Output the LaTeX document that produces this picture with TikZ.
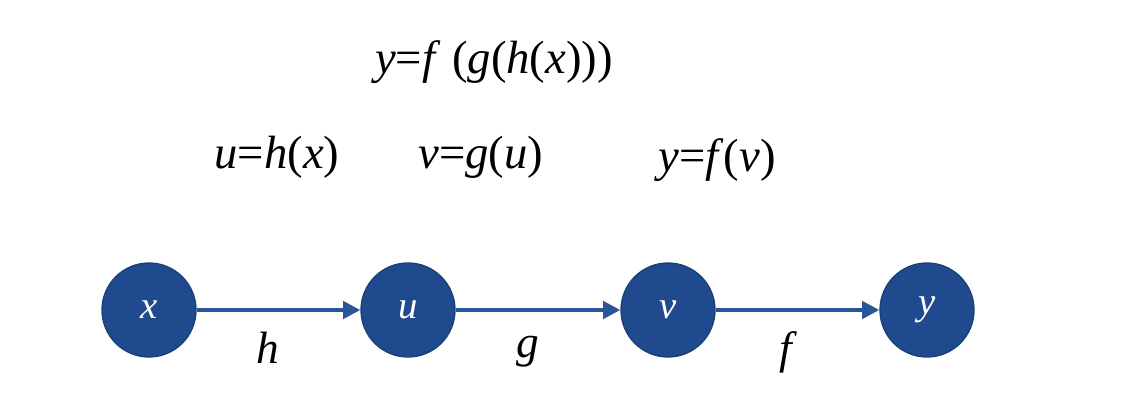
\documentclass[tikz,border=0pt]{standalone}
\usepackage{fontspec}
\setmainfont{Liberation Serif}
\usetikzlibrary{arrows.meta}
\definecolor{nodeblue}{HTML}{1F4B8E}
\definecolor{edgeblue}{HTML}{1A3F75}
\definecolor{arrowblue}{HTML}{2A5699}
\begin{document}
\begin{tikzpicture}[x=0.75pt,y=-0.75pt,
  vert/.style={circle,fill=nodeblue,draw=edgeblue,line width=1pt,minimum size=70.5pt,inner sep=0pt,text=white,font=\fontsize{29}{32}\selectfont\itshape},
  conn/.style={draw=arrowblue,line width=3pt,-{Triangle[length=13pt,width=13pt]}},
  lab/.style={font=\fontsize{34}{38}\selectfont\itshape,inner sep=0pt},
  big/.style={font=\fontsize{35}{40}\selectfont,inner sep=0pt}]
\useasboundingbox (0,0) rectangle (1144,402);
\node[vert] (x) at (149,310) {x};
\node[vert] (u) at (408,310) {u};
\node[vert] (v) at (668,310) {v};
\node[vert] (y) at (927,310) {y};
\draw[conn] (x) -- (u);
\draw[conn] (u) -- (v);
\draw[conn] (v) -- (y);
\node[lab] (lh) at (268,348) {h};
\node[lab] (lg) at (528,352) {g};
\node[lab] (lf) at (786,352) {f};
\node[big] (t0) at (494,62) {\textit{y}=\textit{f} (\textit{g}(\textit{h}(\textit{x})))};
\node[big] (t1) at (277,157) {\textit{u}=\textit{h}(\textit{x})};
\node[big] (t2) at (481,157) {\textit{v}=\textit{g}(\textit{u})};
\node[big] (t3) at (717,160) {\textit{y}=\textit{f}(\textit{v})};
\end{tikzpicture}
\end{document}
